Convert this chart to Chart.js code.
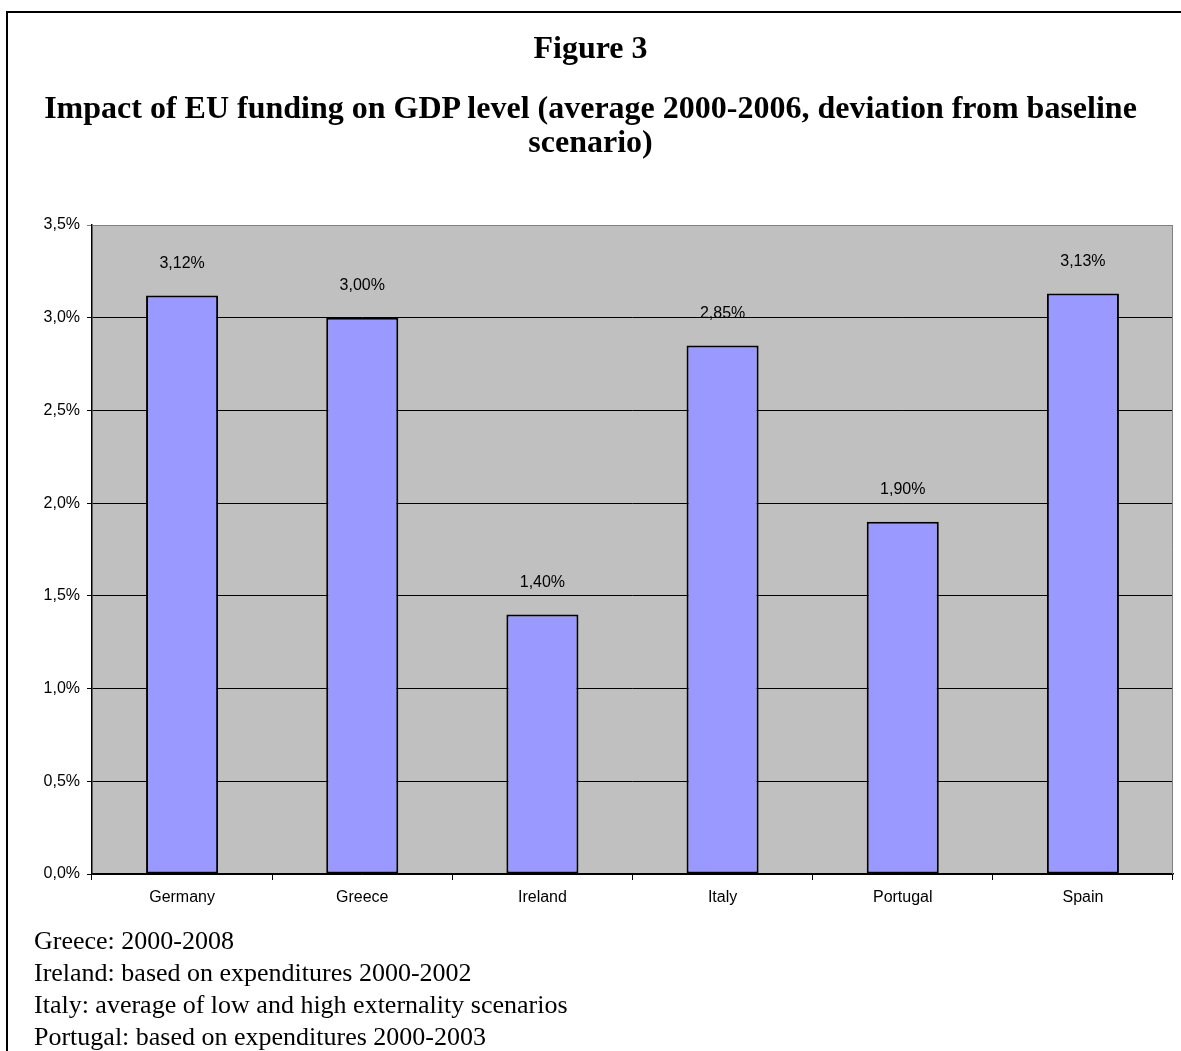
<!DOCTYPE html>
<html>
<head>
<meta charset="utf-8">
<script src="https://cdn.jsdelivr.net/npm/chart.js@4"></script>
<style>
  html, body { margin: 0; padding: 0; background: #fff; }
  body { width: 1181px; height: 1051px; position: relative; overflow: hidden; }
  .frame { position: absolute; left: 6px; top: 11px; width: 1200px; height: 1100px;
           border-top: 2px solid #000; border-left: 2px solid #000; }
  .title { position: absolute; left: 0; width: 1181px; text-align: center;
           font-family: "Liberation Serif", "Times New Roman", serif; font-weight: bold;
           font-size: 32px; color: #000; line-height: 34px; }
  .notes { position: absolute; left: 34px; top: 925px;
           font-family: "Liberation Serif", "Times New Roman", serif; font-size: 26px;
           line-height: 32px; color: #000; }
  #chart { position: absolute; left: 0; top: 0; }
</style>
</head>
<body>
<div class="frame"></div>
<canvas id="chart" width="1181" height="1051"></canvas>
<div class="title" style="top:30px">Figure 3</div>
<div class="title" style="top:90px">Impact of EU funding on GDP level (average 2000-2006, deviation from baseline<br>scenario)</div>
<div class="notes">
  Greece: 2000-2008<br>
  Ireland: based on expenditures 2000-2002<br>
  Italy: average of low and high externality scenarios<br>
  Portugal: based on expenditures 2000-2003
</div>
<script>
const countries = ['Germany', 'Greece', 'Ireland', 'Italy', 'Portugal', 'Spain']
const gdpImpact = [3.12, 3.00, 1.40, 2.85, 1.90, 3.13]
const yTicks = [0, 0.5, 1.0, 1.5, 2.0, 2.5, 3.0, 3.5]

const sans = '"Liberation Sans", Arial, sans-serif'

// comma decimal, like the rest of the figure
function pct(v, digits) {
    return v.toFixed(digits).replace('.', ',') + '%'
}

// grey plot area with a thin grey frame
const plotBackground = {
    id: 'plotBackground',
    beforeDraw(chart) {
        const { ctx, chartArea: a } = chart
        ctx.save()
        ctx.fillStyle = '#C0C0C0'
        ctx.fillRect(a.left, a.top, a.right - a.left, a.bottom - a.top)
        ctx.restore()
    },
    afterDraw(chart) {
        const { ctx, chartArea: a } = chart
        ctx.save()
        ctx.strokeStyle = '#808080'
        ctx.lineWidth = 1
        ctx.beginPath()
        ctx.moveTo(a.left, a.top + 0.5)
        ctx.lineTo(a.right - 0.5, a.top + 0.5)
        ctx.lineTo(a.right - 0.5, a.bottom)
        ctx.stroke()
        ctx.restore()
    }
}

// value printed above each bar
const barValues = {
    id: 'barValues',
    afterDatasetsDraw(chart) {
        const { ctx } = chart
        const meta = chart.getDatasetMeta(0)
        ctx.save()
        ctx.font = '16px ' + sans
        ctx.fillStyle = '#000'
        ctx.textAlign = 'center'
        ctx.textBaseline = 'middle'
        meta.data.forEach((bar, i) => {
            ctx.fillText(pct(gdpImpact[i], 2), bar.x, bar.y - 32)
        })
        ctx.restore()
    }
}

new Chart(document.getElementById('chart'), {
    type: 'bar',
    data: {
        labels: countries,
        datasets: [{
            data: gdpImpact,
            backgroundColor: '#9999FF',
            borderColor: '#000',
            borderWidth: 2,
            borderSkipped: false,
            categoryPercentage: 1.0,
            barPercentage: 0.4
        }]
    },
    options: {
        responsive: false,
        animation: false,
        layout: { padding: { top: 225, left: 0, right: 8, bottom: 137 } },
        plugins: {
            legend: { display: false },
            tooltip: { enabled: false }
        },
        scales: {
            x: {
                offset: true,
                grid: {
                    offset: true,
                    drawOnChartArea: false,
                    drawTicks: true,
                    tickLength: 6,
                    color: '#000'
                },
                border: { color: '#000', width: 1.5 },
                ticks: { color: '#000', font: { family: sans, size: 16 }, padding: 8 },
                afterFit(scale) { scale.height = 40 }
            },
            y: {
                min: 0,
                max: 3.5,
                afterBuildTicks(scale) { scale.ticks = yTicks.map(v => ({ value: v })) },
                grid: {
                    color: ctx => ctx.tick && ctx.tick.value === 3.5 ? '#808080' : '#000',
                    lineWidth: 1,
                    tickLength: 5
                },
                border: { color: '#000', width: 1.5 },
                ticks: {
                    color: '#000',
                    font: { family: sans, size: 16 },
                    padding: 7,
                    callback: v => pct(v, 1)
                },
                afterFit(scale) { scale.width = 92 }
            }
        }
    },
    plugins: [plotBackground, barValues]
})
</script>
</body>
</html>
